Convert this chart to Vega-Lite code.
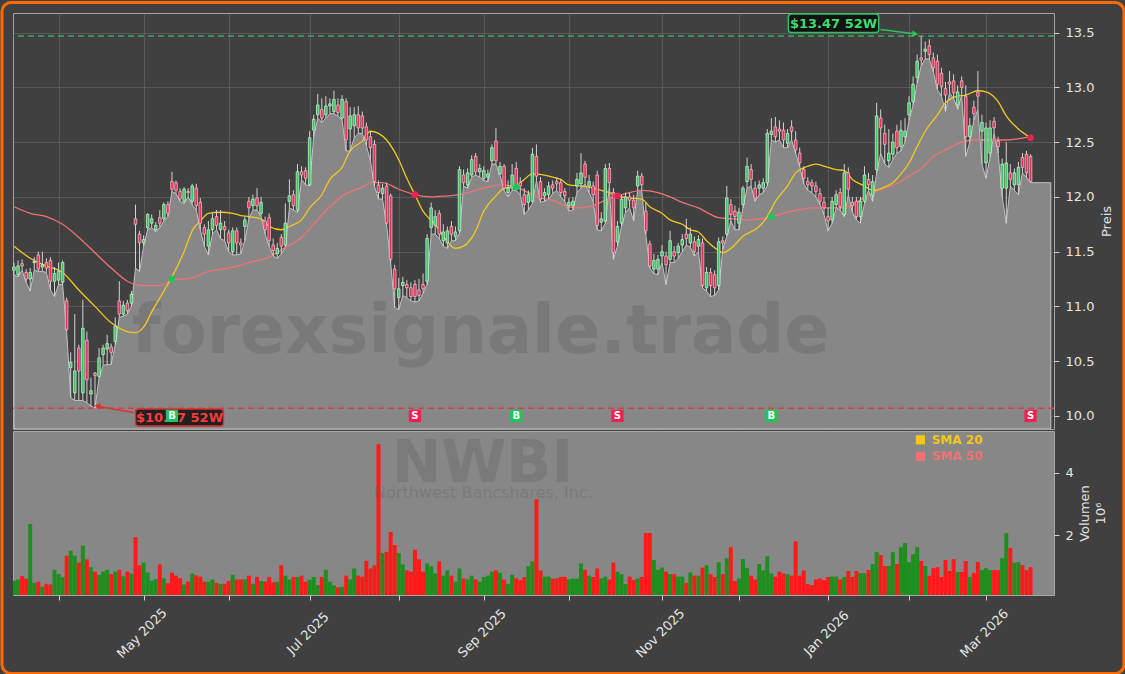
{
"$schema": "https://vega.github.io/schema/vega-lite/v6.json",
"background": "#404040",
"padding": 0,
"bounds": "flush",
"spacing": 2,
"datasets": {
"main": [
{"i":0,"o":11.33,"h":11.40,"l":11.29,"c":11.36,"v":0.55},
{"i":1,"o":11.29,"h":11.42,"l":11.27,"c":11.37,"v":0.59},
{"i":2,"o":11.39,"h":11.43,"l":11.33,"c":11.37,"v":0.70},
{"i":3,"o":11.31,"h":11.34,"l":11.22,"c":11.25,"v":0.62},
{"i":4,"o":11.25,"h":11.35,"l":11.14,"c":11.31,"v":2.36},
{"i":5,"o":11.40,"h":11.45,"l":11.33,"c":11.41,"v":0.48},
{"i":6,"o":11.47,"h":11.50,"l":11.32,"c":11.34,"v":0.52},
{"i":7,"o":11.36,"h":11.50,"l":11.32,"c":11.38,"v":0.36},
{"i":8,"o":11.40,"h":11.44,"l":11.31,"c":11.35,"v":0.45},
{"i":9,"o":11.42,"h":11.45,"l":11.15,"c":11.23,"v":0.43},
{"i":10,"o":11.23,"h":11.36,"l":11.09,"c":11.30,"v":0.90},
{"i":11,"o":11.24,"h":11.40,"l":11.20,"c":11.32,"v":0.76},
{"i":12,"o":11.22,"h":11.42,"l":11.20,"c":11.40,"v":0.66},
{"i":13,"o":11.05,"h":11.08,"l":10.77,"c":10.79,"v":1.35},
{"i":14,"o":10.44,"h":10.58,"l":10.17,"c":10.49,"v":1.51},
{"i":15,"o":10.21,"h":10.93,"l":10.14,"c":10.41,"v":1.35},
{"i":16,"o":10.62,"h":10.65,"l":10.14,"c":10.41,"v":1.13},
{"i":17,"o":10.21,"h":11.06,"l":10.14,"c":10.80,"v":1.67},
{"i":18,"o":10.69,"h":10.77,"l":10.12,"c":10.33,"v":1.23},
{"i":19,"o":10.20,"h":10.35,"l":10.09,"c":10.23,"v":0.98},
{"i":20,"o":10.39,"h":10.40,"l":10.07,"c":10.37,"v":0.84},
{"i":21,"o":10.36,"h":10.62,"l":10.35,"c":10.53,"v":0.73},
{"i":22,"o":10.56,"h":10.65,"l":10.46,"c":10.62,"v":0.84},
{"i":23,"o":10.61,"h":10.74,"l":10.47,"c":10.66,"v":0.90},
{"i":24,"o":10.63,"h":10.66,"l":10.47,"c":10.58,"v":0.76},
{"i":25,"o":10.68,"h":10.90,"l":10.65,"c":10.82,"v":0.84},
{"i":26,"o":11.05,"h":11.23,"l":10.90,"c":10.93,"v":0.90},
{"i":27,"o":10.93,"h":11.05,"l":10.91,"c":11.01,"v":0.69},
{"i":28,"o":11.03,"h":11.06,"l":10.93,"c":10.96,"v":0.84},
{"i":29,"o":11.03,"h":11.14,"l":11.00,"c":11.11,"v":0.78},
{"i":30,"o":11.80,"h":11.93,"l":11.35,"c":11.75,"v":1.94},
{"i":31,"o":11.66,"h":11.69,"l":11.32,"c":11.58,"v":1.04},
{"i":32,"o":11.58,"h":11.65,"l":11.55,"c":11.61,"v":1.13},
{"i":33,"o":11.72,"h":11.85,"l":11.70,"c":11.84,"v":0.81},
{"i":34,"o":11.76,"h":11.84,"l":11.72,"c":11.80,"v":0.55},
{"i":35,"o":11.70,"h":11.77,"l":11.68,"c":11.74,"v":0.60},
{"i":36,"o":11.81,"h":11.88,"l":11.72,"c":11.76,"v":1.07},
{"i":37,"o":11.80,"h":11.95,"l":11.78,"c":11.93,"v":0.62},
{"i":38,"o":11.93,"h":11.96,"l":11.82,"c":11.85,"v":0.47},
{"i":39,"o":12.14,"h":12.23,"l":12.05,"c":12.07,"v":0.81},
{"i":40,"o":12.13,"h":12.15,"l":12.03,"c":12.06,"v":0.71},
{"i":41,"o":12.05,"h":12.08,"l":11.96,"c":11.98,"v":0.63},
{"i":42,"o":11.96,"h":12.09,"l":11.94,"c":12.07,"v":0.43},
{"i":43,"o":12.05,"h":12.08,"l":12.00,"c":12.04,"v":0.52},
{"i":44,"o":11.96,"h":12.12,"l":11.93,"c":12.10,"v":0.78},
{"i":45,"o":12.08,"h":12.12,"l":11.88,"c":11.92,"v":0.72},
{"i":46,"o":11.95,"h":11.99,"l":11.70,"c":11.76,"v":0.68},
{"i":47,"o":11.72,"h":11.75,"l":11.55,"c":11.66,"v":0.52},
{"i":48,"o":11.55,"h":11.78,"l":11.47,"c":11.70,"v":0.52},
{"i":49,"o":11.70,"h":11.85,"l":11.66,"c":11.80,"v":0.59},
{"i":50,"o":11.82,"h":11.88,"l":11.70,"c":11.74,"v":0.48},
{"i":51,"o":11.70,"h":11.88,"l":11.62,"c":11.76,"v":0.44},
{"i":52,"o":11.73,"h":11.78,"l":11.60,"c":11.70,"v":0.45},
{"i":53,"o":11.67,"h":11.70,"l":11.50,"c":11.58,"v":0.54},
{"i":54,"o":11.50,"h":11.72,"l":11.47,"c":11.69,"v":0.74},
{"i":55,"o":11.69,"h":11.72,"l":11.47,"c":11.58,"v":0.59},
{"i":56,"o":11.58,"h":11.62,"l":11.48,"c":11.56,"v":0.59},
{"i":57,"o":11.73,"h":11.82,"l":11.60,"c":11.79,"v":0.59},
{"i":58,"o":11.96,"h":12.00,"l":11.80,"c":11.90,"v":0.71},
{"i":59,"o":11.92,"h":12.02,"l":11.88,"c":11.98,"v":0.45},
{"i":60,"o":11.99,"h":12.08,"l":11.88,"c":11.92,"v":0.67},
{"i":61,"o":11.85,"h":12.00,"l":11.82,"c":11.95,"v":0.54},
{"i":62,"o":11.78,"h":11.82,"l":11.66,"c":11.70,"v":0.52},
{"i":63,"o":11.81,"h":11.85,"l":11.55,"c":11.60,"v":0.67},
{"i":64,"o":11.56,"h":11.62,"l":11.46,"c":11.51,"v":0.50},
{"i":65,"o":11.48,"h":11.58,"l":11.44,"c":11.53,"v":0.52},
{"i":66,"o":11.63,"h":11.66,"l":11.48,"c":11.55,"v":1.04},
{"i":67,"o":11.56,"h":11.94,"l":11.54,"c":11.76,"v":0.71},
{"i":68,"o":11.96,"h":12.16,"l":11.90,"c":12.01,"v":0.59},
{"i":69,"o":12.02,"h":12.06,"l":11.88,"c":11.92,"v":0.67},
{"i":70,"o":11.88,"h":12.30,"l":11.86,"c":12.23,"v":0.67},
{"i":71,"o":12.23,"h":12.28,"l":12.16,"c":12.20,"v":0.71},
{"i":72,"o":12.24,"h":12.27,"l":12.11,"c":12.17,"v":0.52},
{"i":73,"o":12.11,"h":12.60,"l":12.10,"c":12.54,"v":0.58},
{"i":74,"o":12.61,"h":12.75,"l":12.55,"c":12.71,"v":0.67},
{"i":75,"o":12.75,"h":12.94,"l":12.72,"c":12.84,"v":0.41},
{"i":76,"o":12.80,"h":12.90,"l":12.68,"c":12.72,"v":0.67},
{"i":77,"o":12.75,"h":12.92,"l":12.72,"c":12.83,"v":0.90},
{"i":78,"o":12.83,"h":12.90,"l":12.76,"c":12.85,"v":0.52},
{"i":79,"o":12.78,"h":12.97,"l":12.76,"c":12.89,"v":0.40},
{"i":80,"o":12.84,"h":12.90,"l":12.74,"c":12.77,"v":0.34},
{"i":81,"o":12.72,"h":12.93,"l":12.70,"c":12.89,"v":0.36},
{"i":82,"o":12.87,"h":12.90,"l":12.42,"c":12.52,"v":0.71},
{"i":83,"o":12.62,"h":12.82,"l":12.42,"c":12.74,"v":0.59},
{"i":84,"o":12.65,"h":12.82,"l":12.54,"c":12.75,"v":0.94},
{"i":85,"o":12.75,"h":12.83,"l":12.58,"c":12.63,"v":0.71},
{"i":86,"o":12.74,"h":12.78,"l":12.58,"c":12.63,"v":0.68},
{"i":87,"o":12.64,"h":12.68,"l":12.47,"c":12.52,"v":1.19},
{"i":88,"o":12.55,"h":12.60,"l":12.33,"c":12.45,"v":0.94},
{"i":89,"o":12.48,"h":12.52,"l":12.10,"c":12.14,"v":1.04},
{"i":90,"o":12.11,"h":12.15,"l":11.98,"c":12.04,"v":4.91},
{"i":91,"o":12.03,"h":12.12,"l":11.98,"c":12.08,"v":1.43},
{"i":92,"o":12.10,"h":12.13,"l":11.74,"c":11.76,"v":1.47},
{"i":93,"o":12.01,"h":12.03,"l":11.40,"c":11.43,"v":2.11},
{"i":94,"o":11.34,"h":11.38,"l":10.99,"c":11.16,"v":1.69},
{"i":95,"o":11.08,"h":11.26,"l":10.97,"c":11.16,"v":1.43},
{"i":96,"o":11.19,"h":11.27,"l":11.10,"c":11.22,"v":1.07},
{"i":97,"o":11.20,"h":11.24,"l":11.08,"c":11.17,"v":0.88},
{"i":98,"o":11.17,"h":11.22,"l":11.05,"c":11.09,"v":0.84},
{"i":99,"o":11.20,"h":11.24,"l":11.04,"c":11.09,"v":1.54},
{"i":100,"o":11.15,"h":11.25,"l":11.05,"c":11.10,"v":1.23},
{"i":101,"o":11.20,"h":11.30,"l":11.12,"c":11.16,"v":0.84},
{"i":102,"o":11.23,"h":11.66,"l":11.20,"c":11.62,"v":1.10},
{"i":103,"o":11.72,"h":11.95,"l":11.66,"c":11.90,"v":1.01},
{"i":104,"o":11.74,"h":11.88,"l":11.66,"c":11.82,"v":0.78},
{"i":105,"o":11.85,"h":11.88,"l":11.62,"c":11.66,"v":1.17},
{"i":106,"o":11.60,"h":11.75,"l":11.55,"c":11.68,"v":0.71},
{"i":107,"o":11.58,"h":11.73,"l":11.53,"c":11.69,"v":0.88},
{"i":108,"o":11.73,"h":11.78,"l":11.60,"c":11.66,"v":0.71},
{"i":109,"o":11.64,"h":11.73,"l":11.60,"c":11.68,"v":0.52},
{"i":110,"o":11.69,"h":12.28,"l":11.67,"c":12.25,"v":0.94},
{"i":111,"o":12.20,"h":12.25,"l":12.10,"c":12.13,"v":0.62},
{"i":112,"o":12.11,"h":12.26,"l":12.08,"c":12.22,"v":0.59},
{"i":113,"o":12.20,"h":12.38,"l":12.18,"c":12.34,"v":0.71},
{"i":114,"o":12.37,"h":12.40,"l":12.20,"c":12.23,"v":0.59},
{"i":115,"o":12.23,"h":12.30,"l":12.18,"c":12.26,"v":0.52},
{"i":116,"o":12.17,"h":12.28,"l":12.15,"c":12.24,"v":0.67},
{"i":117,"o":12.18,"h":12.25,"l":12.14,"c":12.21,"v":0.71},
{"i":118,"o":12.33,"h":12.48,"l":12.30,"c":12.45,"v":0.84},
{"i":119,"o":12.51,"h":12.63,"l":12.30,"c":12.33,"v":0.88},
{"i":120,"o":12.21,"h":12.32,"l":12.20,"c":12.28,"v":0.81},
{"i":121,"o":12.28,"h":12.30,"l":12.06,"c":12.08,"v":0.59},
{"i":122,"o":12.04,"h":12.15,"l":12.00,"c":12.08,"v":0.45},
{"i":123,"o":12.08,"h":12.30,"l":12.06,"c":12.20,"v":0.74},
{"i":124,"o":12.26,"h":12.32,"l":12.06,"c":12.10,"v":0.63},
{"i":125,"o":12.13,"h":12.18,"l":12.02,"c":12.10,"v":0.57},
{"i":126,"o":12.02,"h":12.08,"l":11.84,"c":11.93,"v":0.67},
{"i":127,"o":11.95,"h":12.06,"l":11.88,"c":12.02,"v":1.01},
{"i":128,"o":11.96,"h":12.45,"l":11.94,"c":12.39,"v":1.17},
{"i":129,"o":12.37,"h":12.48,"l":12.15,"c":12.19,"v":3.15},
{"i":130,"o":12.14,"h":12.18,"l":11.95,"c":11.98,"v":0.88},
{"i":131,"o":12.01,"h":12.08,"l":11.96,"c":12.04,"v":0.68},
{"i":132,"o":12.02,"h":12.14,"l":11.98,"c":12.10,"v":0.68},
{"i":133,"o":12.11,"h":12.15,"l":12.03,"c":12.08,"v":0.62},
{"i":134,"o":12.14,"h":12.18,"l":12.06,"c":12.12,"v":0.62},
{"i":135,"o":12.13,"h":12.16,"l":12.00,"c":12.04,"v":0.67},
{"i":136,"o":12.05,"h":12.08,"l":11.96,"c":12.01,"v":0.67},
{"i":137,"o":11.92,"h":11.99,"l":11.87,"c":11.95,"v":0.59},
{"i":138,"o":11.92,"h":12.00,"l":11.88,"c":11.96,"v":0.62},
{"i":139,"o":12.10,"h":12.22,"l":12.04,"c":12.16,"v":0.62},
{"i":140,"o":12.12,"h":12.40,"l":12.08,"c":12.22,"v":1.10},
{"i":141,"o":12.30,"h":12.33,"l":12.12,"c":12.18,"v":0.90},
{"i":142,"o":12.10,"h":12.20,"l":12.04,"c":12.14,"v":0.71},
{"i":143,"o":12.10,"h":12.14,"l":11.96,"c":12.02,"v":0.67},
{"i":144,"o":12.20,"h":12.24,"l":11.70,"c":11.74,"v":0.94},
{"i":145,"o":11.77,"h":11.86,"l":11.69,"c":11.80,"v":0.62},
{"i":146,"o":11.78,"h":12.30,"l":11.76,"c":12.26,"v":0.68},
{"i":147,"o":12.26,"h":12.31,"l":12.10,"c":12.13,"v":0.59},
{"i":148,"o":12.04,"h":12.08,"l":11.43,"c":11.49,"v":1.13},
{"i":149,"o":11.59,"h":11.78,"l":11.55,"c":11.73,"v":0.84},
{"i":150,"o":11.76,"h":12.02,"l":11.73,"c":11.98,"v":0.76},
{"i":151,"o":11.90,"h":12.04,"l":11.86,"c":12.00,"v":0.44},
{"i":152,"o":12.00,"h":12.04,"l":11.90,"c":11.97,"v":0.68},
{"i":153,"o":11.97,"h":12.02,"l":11.78,"c":11.90,"v":0.57},
{"i":154,"o":12.10,"h":12.24,"l":12.06,"c":12.19,"v":0.62},
{"i":155,"o":12.19,"h":12.22,"l":12.06,"c":12.11,"v":0.67},
{"i":156,"o":11.87,"h":11.95,"l":11.66,"c":11.69,"v":2.07},
{"i":157,"o":11.57,"h":11.60,"l":11.35,"c":11.37,"v":2.07},
{"i":158,"o":11.34,"h":11.48,"l":11.30,"c":11.42,"v":1.21},
{"i":159,"o":11.34,"h":11.47,"l":11.29,"c":11.43,"v":0.90},
{"i":160,"o":11.46,"h":11.56,"l":11.40,"c":11.50,"v":0.97},
{"i":161,"o":11.46,"h":11.50,"l":11.20,"c":11.38,"v":0.84},
{"i":162,"o":11.43,"h":11.69,"l":11.40,"c":11.60,"v":0.76},
{"i":163,"o":11.50,"h":11.55,"l":11.40,"c":11.46,"v":0.76},
{"i":164,"o":11.49,"h":11.58,"l":11.44,"c":11.55,"v":0.68},
{"i":165,"o":11.56,"h":11.66,"l":11.50,"c":11.61,"v":0.68},
{"i":166,"o":11.66,"h":11.80,"l":11.56,"c":11.62,"v":0.48},
{"i":167,"o":11.58,"h":11.72,"l":11.54,"c":11.66,"v":0.81},
{"i":168,"o":11.59,"h":11.64,"l":11.46,"c":11.50,"v":0.71},
{"i":169,"o":11.55,"h":11.65,"l":11.50,"c":11.61,"v":0.71},
{"i":170,"o":11.58,"h":11.62,"l":11.17,"c":11.19,"v":0.97},
{"i":171,"o":11.17,"h":11.36,"l":11.14,"c":11.31,"v":1.04},
{"i":172,"o":11.31,"h":11.35,"l":11.09,"c":11.19,"v":0.76},
{"i":173,"o":11.29,"h":11.33,"l":11.10,"c":11.17,"v":0.67},
{"i":174,"o":11.19,"h":11.63,"l":11.15,"c":11.59,"v":1.14},
{"i":175,"o":11.60,"h":11.64,"l":11.52,"c":11.58,"v":0.76},
{"i":176,"o":11.66,"h":12.10,"l":11.64,"c":11.99,"v":1.27},
{"i":177,"o":11.93,"h":11.98,"l":11.78,"c":11.84,"v":1.62},
{"i":178,"o":11.87,"h":11.92,"l":11.70,"c":11.82,"v":0.54},
{"i":179,"o":11.76,"h":11.90,"l":11.70,"c":11.86,"v":0.62},
{"i":180,"o":11.93,"h":12.10,"l":11.90,"c":12.08,"v":1.24},
{"i":181,"o":12.14,"h":12.36,"l":12.08,"c":12.28,"v":0.96},
{"i":182,"o":12.25,"h":12.30,"l":12.10,"c":12.16,"v":0.71},
{"i":183,"o":12.08,"h":12.14,"l":11.96,"c":11.99,"v":0.59},
{"i":184,"o":12.08,"h":12.15,"l":12.02,"c":12.11,"v":1.08},
{"i":185,"o":12.08,"h":12.17,"l":12.04,"c":12.13,"v":0.88},
{"i":186,"o":12.13,"h":12.62,"l":12.10,"c":12.58,"v":1.33},
{"i":187,"o":12.57,"h":12.72,"l":12.52,"c":12.60,"v":0.78},
{"i":188,"o":12.64,"h":12.73,"l":12.50,"c":12.55,"v":0.68},
{"i":189,"o":12.62,"h":12.70,"l":12.52,"c":12.60,"v":0.84},
{"i":190,"o":12.61,"h":12.68,"l":12.45,"c":12.52,"v":0.78},
{"i":191,"o":12.49,"h":12.62,"l":12.45,"c":12.58,"v":0.76},
{"i":192,"o":12.64,"h":12.70,"l":12.52,"c":12.60,"v":0.71},
{"i":193,"o":12.52,"h":12.60,"l":12.40,"c":12.43,"v":1.81},
{"i":194,"o":12.40,"h":12.45,"l":12.28,"c":12.31,"v":0.71},
{"i":195,"o":12.25,"h":12.28,"l":12.12,"c":12.17,"v":0.88},
{"i":196,"o":12.14,"h":12.18,"l":12.06,"c":12.11,"v":0.44},
{"i":197,"o":12.13,"h":12.16,"l":12.04,"c":12.10,"v":0.41},
{"i":198,"o":12.10,"h":12.14,"l":12.00,"c":12.05,"v":0.59},
{"i":199,"o":12.03,"h":12.08,"l":11.93,"c":11.96,"v":0.62},
{"i":200,"o":11.95,"h":12.00,"l":11.84,"c":11.90,"v":0.57},
{"i":201,"o":11.82,"h":11.90,"l":11.69,"c":11.78,"v":0.67},
{"i":202,"o":11.79,"h":12.00,"l":11.76,"c":11.96,"v":0.68},
{"i":203,"o":11.93,"h":12.06,"l":11.90,"c":12.02,"v":0.68},
{"i":204,"o":12.04,"h":12.08,"l":11.88,"c":11.91,"v":0.59},
{"i":205,"o":11.84,"h":12.30,"l":11.82,"c":12.22,"v":0.67},
{"i":206,"o":12.22,"h":12.27,"l":12.02,"c":12.07,"v":0.86},
{"i":207,"o":11.95,"h":12.00,"l":11.86,"c":11.92,"v":0.67},
{"i":208,"o":11.96,"h":12.00,"l":11.79,"c":11.82,"v":0.86},
{"i":209,"o":11.82,"h":12.00,"l":11.76,"c":11.96,"v":0.79},
{"i":210,"o":11.96,"h":12.28,"l":11.94,"c":12.20,"v":0.79},
{"i":211,"o":12.16,"h":12.22,"l":12.06,"c":12.11,"v":0.89},
{"i":212,"o":12.01,"h":12.20,"l":11.96,"c":12.14,"v":1.08},
{"i":213,"o":12.25,"h":12.86,"l":12.22,"c":12.74,"v":1.46},
{"i":214,"o":12.72,"h":12.80,"l":12.40,"c":12.63,"v":1.37},
{"i":215,"o":12.58,"h":12.66,"l":12.30,"c":12.48,"v":1.02},
{"i":216,"o":12.33,"h":12.62,"l":12.27,"c":12.40,"v":1.02},
{"i":217,"o":12.39,"h":12.58,"l":12.34,"c":12.50,"v":1.46},
{"i":218,"o":12.60,"h":12.66,"l":12.40,"c":12.45,"v":1.08},
{"i":219,"o":12.46,"h":12.70,"l":12.42,"c":12.61,"v":1.62},
{"i":220,"o":12.55,"h":12.72,"l":12.50,"c":12.60,"v":1.75},
{"i":221,"o":12.75,"h":12.92,"l":12.70,"c":12.86,"v":1.14},
{"i":222,"o":12.87,"h":13.10,"l":12.84,"c":13.03,"v":1.40},
{"i":223,"o":13.09,"h":13.30,"l":13.04,"c":13.24,"v":1.62},
{"i":224,"o":13.27,"h":13.47,"l":13.20,"c":13.25,"v":1.18},
{"i":225,"o":13.33,"h":13.42,"l":13.26,"c":13.35,"v":1.02},
{"i":226,"o":13.38,"h":13.44,"l":13.26,"c":13.30,"v":0.71},
{"i":227,"o":13.27,"h":13.32,"l":13.14,"c":13.18,"v":0.95},
{"i":228,"o":13.24,"h":13.30,"l":12.98,"c":13.03,"v":0.98},
{"i":229,"o":13.13,"h":13.18,"l":12.92,"c":13.01,"v":0.67},
{"i":230,"o":12.99,"h":13.05,"l":12.78,"c":12.93,"v":1.21},
{"i":231,"o":13.05,"h":13.15,"l":12.95,"c":13.03,"v":0.86},
{"i":232,"o":13.06,"h":13.12,"l":12.90,"c":12.95,"v":1.24},
{"i":233,"o":12.84,"h":13.02,"l":12.80,"c":12.96,"v":0.83},
{"i":234,"o":13.06,"h":13.10,"l":12.93,"c":13.00,"v":0.83},
{"i":235,"o":12.92,"h":13.02,"l":12.37,"c":12.55,"v":1.18},
{"i":236,"o":12.55,"h":12.72,"l":12.50,"c":12.65,"v":0.67},
{"i":237,"o":12.82,"h":12.88,"l":12.70,"c":12.76,"v":0.80},
{"i":238,"o":12.96,"h":13.15,"l":12.80,"c":12.92,"v":1.15},
{"i":239,"o":12.60,"h":12.75,"l":12.30,"c":12.68,"v":0.89},
{"i":240,"o":12.31,"h":12.68,"l":12.17,"c":12.63,"v":0.95},
{"i":241,"o":12.40,"h":12.70,"l":12.36,"c":12.63,"v":0.89},
{"i":242,"o":12.69,"h":12.73,"l":12.58,"c":12.63,"v":0.89},
{"i":243,"o":12.51,"h":12.55,"l":12.40,"c":12.46,"v":0.89},
{"i":244,"o":12.08,"h":12.35,"l":12.00,"c":12.30,"v":1.27},
{"i":245,"o":12.08,"h":12.50,"l":11.76,"c":12.31,"v":2.07},
{"i":246,"o":12.22,"h":12.30,"l":12.10,"c":12.16,"v":1.59},
{"i":247,"o":12.11,"h":12.26,"l":12.06,"c":12.22,"v":1.12},
{"i":248,"o":12.11,"h":12.32,"l":12.02,"c":12.27,"v":1.14},
{"i":249,"o":12.36,"h":12.40,"l":12.22,"c":12.27,"v":1.05},
{"i":250,"o":12.39,"h":12.42,"l":12.18,"c":12.22,"v":0.89},
{"i":251,"o":12.37,"h":12.39,"l":12.13,"c":12.14,"v":0.98},
{"i":256,"l":12.13}
],
"s20": [
{"i":0,"v":11.55},{"i":4,"v":11.44},{"i":8,"v":11.37},{"i":12,"v":11.31},{"i":16,"v":11.15},{"i":20,"v":11.00},{"i":24,"v":10.85},{"i":28,"v":10.77},{"i":30,"v":10.76},{"i":32,"v":10.81},{"i":34,"v":10.95},{"i":37,"v":11.14},{"i":39,"v":11.27},{"i":42,"v":11.50},{"i":44,"v":11.69},{"i":46,"v":11.78},{"i":48,"v":11.85},{"i":51,"v":11.86},{"i":54,"v":11.85},{"i":56,"v":11.83},{"i":58,"v":11.82},{"i":61,"v":11.80},{"i":63,"v":11.73},{"i":66,"v":11.70},{"i":68,"v":11.73},{"i":71,"v":11.79},{"i":73,"v":11.90},{"i":76,"v":12.02},{"i":78,"v":12.16},{"i":81,"v":12.27},{"i":83,"v":12.42},{"i":86,"v":12.51},{"i":88,"v":12.60},{"i":90,"v":12.58},{"i":92,"v":12.52},{"i":95,"v":12.34},{"i":97,"v":12.17},{"i":99,"v":12.02},{"i":101,"v":11.87},{"i":104,"v":11.75},{"i":106,"v":11.64},{"i":109,"v":11.53},{"i":111,"v":11.55},{"i":114,"v":11.69},{"i":116,"v":11.87},{"i":119,"v":12.01},{"i":121,"v":12.08},{"i":124,"v":12.10},{"i":126,"v":12.16},{"i":128,"v":12.21},{"i":131,"v":12.20},{"i":133,"v":12.18},{"i":135,"v":12.16},{"i":137,"v":12.11},{"i":140,"v":12.10},{"i":142,"v":12.09},{"i":145,"v":12.06},{"i":147,"v":12.04},{"i":149,"v":12.01},{"i":152,"v":11.99},{"i":155,"v":11.98},{"i":157,"v":11.91},{"i":160,"v":11.85},{"i":162,"v":11.79},{"i":165,"v":11.75},{"i":167,"v":11.70},{"i":169,"v":11.68},{"i":171,"v":11.60},{"i":174,"v":11.51},{"i":175,"v":11.49},{"i":177,"v":11.53},{"i":180,"v":11.64},{"i":184,"v":11.73},{"i":186,"v":11.82},{"i":188,"v":11.96},{"i":191,"v":12.10},{"i":193,"v":12.22},{"i":196,"v":12.28},{"i":198,"v":12.30},{"i":201,"v":12.27},{"i":203,"v":12.25},{"i":205,"v":12.24},{"i":207,"v":12.16},{"i":210,"v":12.10},{"i":212,"v":12.06},{"i":215,"v":12.09},{"i":217,"v":12.13},{"i":219,"v":12.21},{"i":221,"v":12.31},{"i":223,"v":12.46},{"i":225,"v":12.60},{"i":228,"v":12.75},{"i":230,"v":12.86},{"i":233,"v":12.92},{"i":235,"v":12.93},{"i":238,"v":12.97},{"i":240,"v":12.96},{"i":243,"v":12.87},{"i":245,"v":12.74},{"i":248,"v":12.62},{"i":251,"v":12.54}
],
"s50": [
{"i":0,"v":11.91},{"i":4,"v":11.85},{"i":8,"v":11.82},{"i":12,"v":11.75},{"i":16,"v":11.63},{"i":20,"v":11.49},{"i":24,"v":11.35},{"i":28,"v":11.23},{"i":32,"v":11.19},{"i":36,"v":11.19},{"i":39,"v":11.24},{"i":44,"v":11.26},{"i":48,"v":11.32},{"i":53,"v":11.35},{"i":58,"v":11.40},{"i":63,"v":11.45},{"i":67,"v":11.54},{"i":71,"v":11.63},{"i":74,"v":11.75},{"i":78,"v":11.91},{"i":82,"v":12.03},{"i":86,"v":12.09},{"i":88,"v":12.13},{"i":91,"v":12.13},{"i":95,"v":12.07},{"i":99,"v":12.02},{"i":103,"v":12.00},{"i":107,"v":12.01},{"i":110,"v":12.02},{"i":113,"v":12.05},{"i":117,"v":12.09},{"i":120,"v":12.11},{"i":124,"v":12.09},{"i":127,"v":12.04},{"i":130,"v":11.99},{"i":133,"v":11.97},{"i":136,"v":11.92},{"i":139,"v":11.90},{"i":143,"v":11.92},{"i":146,"v":11.97},{"i":149,"v":12.01},{"i":152,"v":12.04},{"i":155,"v":12.06},{"i":159,"v":12.04},{"i":162,"v":12.00},{"i":165,"v":11.95},{"i":169,"v":11.90},{"i":172,"v":11.84},{"i":174,"v":11.81},{"i":177,"v":11.80},{"i":182,"v":11.79},{"i":187,"v":11.82},{"i":192,"v":11.87},{"i":197,"v":11.90},{"i":202,"v":11.90},{"i":205,"v":11.90},{"i":208,"v":11.95},{"i":211,"v":12.02},{"i":215,"v":12.08},{"i":218,"v":12.12},{"i":221,"v":12.19},{"i":224,"v":12.26},{"i":227,"v":12.37},{"i":230,"v":12.43},{"i":234,"v":12.50},{"i":237,"v":12.52},{"i":240,"v":12.52},{"i":245,"v":12.52},{"i":251,"v":12.55}
],
"sig": [
{"i":39,"p":11.25,"t":"B"},{"i":99,"p":12.02,"t":"S"},{"i":124,"p":12.09,"t":"B"},{"i":149,"p":12.01,"t":"S"},{"i":187,"p":11.82,"t":"B"},{"i":251,"p":12.54,"t":"S"}
]
},
"resolve": {"scale": {"x": "independent", "y": "independent"}},
"vconcat": [
{
"width": 1041,
"height": 416,
"view": {"fill": "#404040", "stroke": "#a3a3a3", "strokeWidth": 1},
"data": {"name": "main"},
"layer": [
{
"mark": {"type": "area", "color": "#878787", "stroke": "#c2c2c2", "strokeWidth": 1, "clip": true},
"encoding": {
"x": {"field": "i", "type": "quantitative", "scale": {"domain": [-0.247, 256.79], "nice": false, "zero": false, "padding": 0},
"axis": {"orient": "bottom", "values": [11,32,53,73,95,116,137,160,179,201,221,240], "labels": false, "ticks": false, "domain": false, "grid": true, "title": null}},
"y": {"field": "l", "type": "quantitative", "scale": {"domain": [9.88, 13.68], "nice": false, "zero": false, "padding": 0},
"axis": {"orient": "right", "values": [10,10.5,11,11.5,12,12.5,13,13.5], "format": ".1f", "grid": true, "tickSize": 5, "labelPadding": 6, "title": "Preis", "titleAngle": 270, "titleBaseline": "middle", "titleAlign": "center", "titleX": 52.5, "titleY": 208}},
"y2": {"datum": 9.88}
}
},
{
"data": {"values": [{}]},
"mark": {"type": "rect", "fill": "transparent", "stroke": "#ff6a00", "strokeWidth": 3, "cornerRadius": 9, "clip": false},
"encoding": {"x": {"datum": -2.963}, "x2": {"datum": 274.07}, "y": {"datum": 13.776}, "y2": {"datum": 7.646}}
},
{
"data": {"values": [{}]},
"mark": {"type": "rule", "color": "#3aa860", "strokeDash": [6, 4], "strokeWidth": 1.6},
"encoding": {"y": {"datum": 13.47}}
},
{
"data": {"values": [{}]},
"mark": {"type": "rule", "color": "#d94040", "strokeDash": [6, 4], "strokeWidth": 1.6},
"encoding": {"y": {"datum": 10.07}}
},
{
"data": {"values": [{}]},
"mark": {"type": "text", "text": "forexsignale.trade", "font": "DejaVu Sans", "fontSize": 67, "fontWeight": "bold", "fill": "#5a5a5a", "opacity": 0.3, "align": "center", "baseline": "alphabetic"},
"encoding": {"x": {"datum": 115.2}, "y": {"datum": 10.574}}
},
{
"data": {"name": "s50"},
"mark": {"type": "line", "color": "#f07272", "strokeWidth": 1.3, "interpolate": "monotone"},
"encoding": {"x": {"field": "i", "type": "quantitative"}, "y": {"field": "v", "type": "quantitative"}}
},
{
"data": {"name": "s20"},
"mark": {"type": "line", "color": "#f2c81f", "strokeWidth": 1.3, "interpolate": "monotone"},
"encoding": {"x": {"field": "i", "type": "quantitative"}, "y": {"field": "v", "type": "quantitative"}}
},
{
"mark": {"type": "rule", "color": "#d2d2d2", "strokeWidth": 1},
"encoding": {"x": {"field": "i", "type": "quantitative"}, "y": {"field": "l", "type": "quantitative"}, "y2": {"field": "h"}}
},
{
"mark": {"type": "bar", "width": 2.6, "strokeWidth": 0.7},
"encoding": {
"x": {"field": "i", "type": "quantitative"},
"y": {"field": "o", "type": "quantitative"},
"y2": {"field": "c"},
"color": {"condition": {"test": "datum.c >= datum.o", "value": "#3cc864"}, "value": "#e8325a"},
"stroke": {"condition": {"test": "datum.c >= datum.o", "value": "#d6f5dc"}, "value": "#f5c6d0"}
}
},
{
"data": {"name": "sig"},
"mark": {"type": "point", "shape": "circle", "filled": true, "size": 45, "opacity": 1},
"encoding": {
"x": {"field": "i", "type": "quantitative"},
"y": {"field": "p", "type": "quantitative"},
"color": {"condition": {"test": "datum.t == 'B'", "value": "#1fc45a"}, "value": "#ee2052"}
}
},
{
"data": {"values": [{}]},
"mark": {"type": "rect", "fill": "#0b0b0b", "fillOpacity": 0.88, "stroke": "#2fbf5f", "strokeWidth": 1.5, "cornerRadius": 3},
"encoding": {"x": {"datum": 191.2}, "x2": {"datum": 213.5}, "y": {"datum": 13.671}, "y2": {"datum": 13.502}}
},
{
"data": {"values": [{}]},
"mark": {"type": "text", "text": "$13.47 52W", "fontSize": 13, "fontWeight": "bold", "fill": "#3ddc6e", "align": "center", "baseline": "middle"},
"encoding": {"x": {"datum": 202.35}, "y": {"datum": 13.584}}
},
{
"data": {"values": [{}]},
"mark": {"type": "rule", "color": "#2fbf5f", "strokeWidth": 1.6},
"encoding": {"x": {"datum": 213.95}, "y": {"datum": 13.529}, "x2": {"datum": 221.9}, "y2": {"datum": 13.493}}
},
{
"data": {"values": [{}]},
"mark": {"type": "point", "shape": "triangle-right", "angle": 7, "filled": true, "size": 45, "color": "#2fbf5f", "opacity": 1},
"encoding": {"x": {"datum": 222.5}, "y": {"datum": 13.488}}
},
{
"data": {"values": [{}]},
"mark": {"type": "rect", "fill": "#151515", "fillOpacity": 0.9, "stroke": "#d93030", "strokeWidth": 1.5, "cornerRadius": 3},
"encoding": {"x": {"datum": 30.0}, "x2": {"datum": 51.7}, "y": {"datum": 10.063}, "y2": {"datum": 9.907}}
},
{
"data": {"values": [{}]},
"mark": {"type": "text", "text": "$10.07 52W", "fontSize": 13, "fontWeight": "bold", "fill": "#ff3a3a", "align": "center", "baseline": "middle"},
"encoding": {"x": {"datum": 40.85}, "y": {"datum": 9.985}}
},
{
"data": {"values": [{}]},
"mark": {"type": "rule", "color": "#e03030", "strokeWidth": 1.6},
"encoding": {"x": {"datum": 29.5}, "y": {"datum": 10.031}, "x2": {"datum": 21.2}, "y2": {"datum": 10.084}}
},
{
"data": {"values": [{}]},
"mark": {"type": "point", "shape": "triangle-left", "angle": 9, "filled": true, "size": 45, "color": "#e03030", "opacity": 1},
"encoding": {"x": {"datum": 20.6}, "y": {"datum": 10.09}}
},
{
"data": {"name": "sig"},
"mark": {"type": "point", "shape": "square", "filled": true, "size": 150, "opacity": 1},
"encoding": {
"x": {"field": "i", "type": "quantitative"},
"y": {"datum": 10.0},
"color": {"condition": {"test": "datum.t == 'B'", "value": "#1fc45a"}, "value": "#ee2052"}
}
},
{
"data": {"name": "sig"},
"mark": {"type": "text", "fontSize": 10, "fontWeight": "bold", "fill": "#ffffff", "align": "center", "baseline": "middle"},
"encoding": {
"x": {"field": "i", "type": "quantitative"},
"y": {"datum": 10.0},
"text": {"field": "t"}
}
}
]
},
{
"width": 1041,
"height": 164,
"view": {"fill": "#878787", "stroke": "#a8a8a8", "strokeWidth": 1},
"data": {"name": "main"},
"layer": [
{
"mark": {"type": "bar", "width": 4, "clip": true},
"encoding": {
"x": {"field": "i", "type": "quantitative", "scale": {"domain": [-0.247, 256.79], "nice": false, "zero": false, "padding": 0},
"axis": {"orient": "bottom", "values": [11,32,53,73,95,116,137,160,179,201,221,240], "grid": false, "tickSize": 5, "title": null, "labelAngle": -45, "labelAlign": "center", "labelBaseline": "middle", "labelPadding": 33, "labelOffset": -2, "labelOverlap": false, "labelFontSize": 13,
"labelExpr": "datum.value==32?'May 2025':datum.value==73?'Jul 2025':datum.value==116?'Sep 2025':datum.value==160?'Nov 2025':datum.value==201?'Jan 2026':datum.value==240?'Mar 2026':''"}},
"y": {"field": "v", "type": "quantitative", "scale": {"domain": [0.093, 5.33], "nice": false, "zero": false, "padding": 0},
"axis": {"orient": "right", "values": [2, 4], "format": "d", "grid": false, "tickSize": 5, "labelPadding": 6, "title": ["Volumen", "10⁶"], "titleAngle": 270, "titleBaseline": "middle", "titleAlign": "center", "titleLineHeight": 16, "titleX": 30.5, "titleY": 82}},
"color": {"condition": {"test": "datum.c >= datum.o", "value": "#1e8f1e"}, "value": "#ff1a1a"}
}
},
{
"data": {"values": [{}]},
"mark": {"type": "text", "text": "NWBI", "fontSize": 59, "fontWeight": "bold", "fill": "#5a5a5a", "opacity": 0.28, "align": "center", "baseline": "alphabetic"},
"encoding": {"x": {"datum": 115.7}, "y": {"datum": 3.69}}
},
{
"data": {"values": [{}]},
"mark": {"type": "text", "text": "Northwest Bancshares, Inc.", "fontSize": 16, "fill": "#5a5a5a", "opacity": 0.28, "align": "center", "baseline": "alphabetic"},
"encoding": {"x": {"datum": 115.9}, "y": {"datum": 3.18}}
},
{
"data": {"values": [{}]},
"mark": {"type": "point", "shape": "square", "filled": true, "size": 85, "color": "#f5c518", "opacity": 1},
"encoding": {"x": {"datum": 223.8}, "y": {"datum": 5.05}}
},
{
"data": {"values": [{}]},
"mark": {"type": "text", "text": "SMA 20", "fontSize": 12, "fontWeight": "bold", "fill": "#f5c518", "align": "left", "baseline": "middle"},
"encoding": {"x": {"datum": 226.6}, "y": {"datum": 5.05}}
},
{
"data": {"values": [{}]},
"mark": {"type": "point", "shape": "square", "filled": true, "size": 85, "color": "#f07272", "opacity": 1},
"encoding": {"x": {"datum": 223.8}, "y": {"datum": 4.52}}
},
{
"data": {"values": [{}]},
"mark": {"type": "text", "text": "SMA 50", "fontSize": 12, "fontWeight": "bold", "fill": "#f07272", "align": "left", "baseline": "middle"},
"encoding": {"x": {"datum": 226.6}, "y": {"datum": 4.52}}
}
]
}
],
"config": {
"font": "DejaVu Sans",
"axis": {"labelColor": "#e6e6e6", "labelFontSize": 13, "labelFont": "DejaVu Sans", "tickColor": "#cfcfcf", "titleColor": "#e0e0e0", "titleFontSize": 13, "titleFontWeight": "normal", "titleFont": "DejaVu Sans", "domain": false, "gridColor": "#ffffff", "gridOpacity": 0.13},
"text": {"font": "DejaVu Sans"}
}
}
